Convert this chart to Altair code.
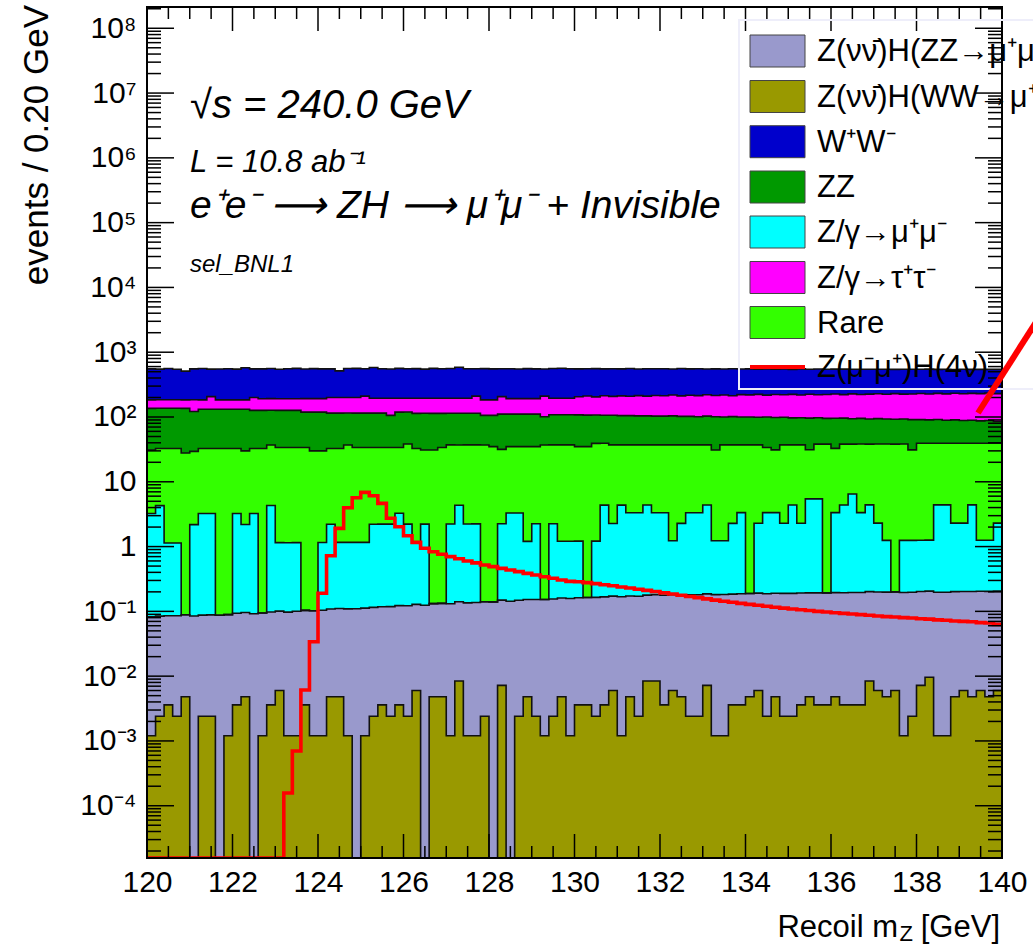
import json
import altair as alt
import numpy as np
import pandas as pd

# ------------------------------------------------------------------ data
# 100 bins of 0.20 GeV from 120 to 140 GeV
bin_edges = np.round(np.linspace(120.0, 140.0, 101), 1)

# Z(vv)H(WW) (olive) - bottom of stack
wwh = [0.0012,0.0024,0.0036,0.0024,0.0048,0,0.0024,0.0024,0,0.0012,
       0.0036,0.0048,0,0.0012,0.0036,0.006,0.0012,0.0012,0.0036,0.0012,
       0.0012,0.0048,0.0048,0.0012,0,0.0012,0.0024,0.0036,0.0024,0.0036,
       0.0024,0.006,0,0.0048,0.0048,0.0012,0.0084,0.0012,0.0012,0.0024,
       0,0.0072,0,0.0024,0.0048,0.0024,0.0012,0.0024,0.0048,0.0012,
       0.0036,0.0036,0.0024,0.0036,0.006,0.0012,0.0048,0.0024,0.0084,0.0084,
       0.0036,0.006,0.0048,0.0024,0.0024,0.0072,0.0012,0.0012,0.0036,0.0036,
       0.0048,0.006,0.0024,0.0048,0.0024,0.0024,0.0036,0.0048,0.0036,0.0036,
       0.0048,0.0036,0.0036,0.0036,0.0084,0.006,0.0048,0.006,0.0012,0.0024,
       0.0072,0.0096,0.0012,0.0012,0.0048,0.006,0.0048,0.006,0.0048,0.006]

# Z(vv)H(ZZ) (lavender)
zzh = [0.081,0.082,0.082,0.083,0.084,0.085,0.085,0.086,0.087,0.088,
       0.090,0.091,0.092,0.093,0.094,0.095,0.096,0.099,0.100,0.101,
       0.103,0.104,0.106,0.108,0.110,0.111,0.113,0.114,0.116,0.119,
       0.120,0.122,0.124,0.127,0.128,0.130,0.132,0.134,0.136,0.138,
       0.140,0.142,0.143,0.146,0.148,0.150,0.151,0.153,0.156,0.157,
       0.159,0.160,0.162,0.164,0.166,0.167,0.168,0.169,0.170,0.172,
       0.174,0.175,0.176,0.177,0.178,0.179,0.180,0.181,0.181,0.183,
       0.184,0.185,0.185,0.186,0.187,0.187,0.188,0.188,0.189,0.189,
       0.190,0.190,0.192,0.192,0.193,0.193,0.193,0.194,0.194,0.195,
       0.195,0.196,0.196,0.196,0.197,0.197,0.198,0.198,0.199,0.199]

# Z/gamma -> mu mu (cyan)
mumu = [3.15,4.2,1.05,1.05,0,2.1,3.15,3.15,0,0,
        3.15,2.1,3.15,0,4.2,1.05,1.05,1.05,0,0,
        1.05,2.1,1.05,1.05,1.05,1.05,2.1,2.1,2.1,3.15,
        2.1,1.05,2.1,0,0,2.1,4.2,2.1,2.1,0,
        0,2.1,3.15,3.15,1.05,2.1,0,2.1,1.05,1.05,
        1.05,0,1.05,4.2,2.1,4.2,3.15,3.15,4.2,3.15,
        3.15,1.05,2.1,3.15,3.15,4.2,1.05,1.05,2.1,3.15,
        0,2.1,3.15,3.15,2.1,4.2,2.1,5.25,5.25,0,
        3.15,4.2,6.3,3.15,4.2,2.1,1.05,0,1.05,1.05,
        1.05,1.05,4.2,4.2,2.1,2.1,4.2,1.05,1.05,2.1]

# Rare (bright green)
rare = [27.7,28.3,31.5,31.5,27.7,27.3,29.4,29.4,32.6,32.6,
        29.4,27.8,29.4,32.6,32.7,32.6,32.6,32.6,33.7,29.9,
        28.8,30.5,31.5,35.9,32.6,32.6,31.6,31.6,31.6,30.5,
        36.0,31.5,28.8,30.8,33.7,34.9,32.7,34.9,34.9,36.8,
        34.7,29.4,31.6,31.6,33.7,32.7,36.8,34.9,35.9,35.9,
        33.7,34.7,38.0,34.9,34.9,32.7,33.8,33.8,32.7,33.8,
        33.8,35.9,34.9,33.8,33.8,32.7,29.8,35.9,34.9,33.8,
        37.0,34.9,30.5,27.7,34.9,32.7,34.9,25.7,32.7,38.0,
        29.4,33.8,31.7,34.9,33.8,36.0,37.0,38.0,37.0,29.8,
        38.0,38.0,34.9,34.9,37.1,37.1,34.9,38.0,38.0,37.1]

# ZZ (dark green)
zz = [105,104,104,104,108,92,99,99,99,99,
      99,102,94,94,90,93,93,93,85,89,
      89,82,82,78,81,81,81,81,72,85,
      81,81,83,83,80,77,77,77,77,69,
      71,79,76,76,76,76,64,71,71,71,
      73,72,68,67,69,68,68,67,67,66,
      66,67,65,65,64,66,70,63,64,63,
      63,62,66,67,62,60,60,65,59,57,
      63,58,56,57,55,56,55,54,55,60,
      52,51,52,50,51,49,50,48,49,46]

# Z/gamma -> tau tau (magenta)
tautau = [48,48,48,48,48,63,52,75,52,52,
          52,52,73,65,65,65,65,65,73,73,
          73,85,85,85,85,95,80,80,89,76,
          76,81,81,81,81,81,81,81,96,78,
          78,96,81,81,81,81,109,87,87,87,
          98,104,97,107,102,107,104,110,106,112,
          110,114,110,114,113,117,114,118,112,121,
          119,124,118,124,121,126,121,128,123,127,
          131,125,133,127,132,134,131,137,132,136,
          139,136,140,138,142,140,142,142,146,144]

# W+W- (blue) - top of stack
ww = [369,364,375,362,326,369,377,342,366,372,
      364,391,353,362,369,355,364,372,358,366,
      362,353,316,360,364,345,385,362,355,368,
      360,364,353,369,362,366,391,360,345,375,
      369,348,364,358,366,362,340,364,369,360,
      348,345,353,340,348,342,351,337,345,340,
      342,334,348,337,340,332,338,334,342,330,
      334,326,336,327,332,321,334,323,330,325,
      321,327,319,325,321,317,323,315,321,318,
      316,321,312,319,310,317,312,315,310,314]

# signal Z(mumu)H(4nu) (red line)
signal = [0,0,0,0,0,0,0,0,0,0,
          0,0,0,0,0,0,1.57e-4,7.0e-4,6.1e-3,0.034,
          0.19,0.72,1.91,3.97,5.67,6.87,6.09,4.65,2.73,2.02,
          1.47,1.16,0.94,0.83,0.76,0.70,0.65,0.60,0.56,0.52,
          0.49,0.46,0.435,0.41,0.386,0.365,0.343,0.324,0.305,0.29,
          0.287,0.278,0.268,0.258,0.248,0.238,0.229,0.22,0.211,0.202,
          0.193,0.185,0.177,0.17,0.163,0.156,0.149,0.143,0.138,0.133,
          0.128,0.124,0.12,0.116,0.112,0.109,0.106,0.103,0.1,0.098,
          0.095,0.093,0.091,0.089,0.087,0.085,0.083,0.082,0.08,0.079,
          0.077,0.076,0.074,0.073,0.071,0.07,0.069,0.067,0.066,0.063]

x_tick_values = [120, 122, 124, 126, 128, 130, 132, 134, 136, 138, 140]
y_tick_values = [1e-4, 1e-3, 1e-2, 1e-1, 1, 10, 1e2, 1e3, 1e4, 1e5, 1e6, 1e7, 1e8]
y_tick_labels = ["10\u207b\u2074", "10\u207b\u00b3", "10\u207b\u00b2", "10\u207b\u00b9", "1", "10",
                 "10\u00b2", "10\u00b3", "10\u2074", "10\u2075", "10\u2076", "10\u2077", "10\u2078"]

NUB = "\u03bd\u03bd\u0304"
legend_labels = [
    "Z(" + NUB + ")H(ZZ\u2192\u03bc\u207a\u03bc\u207b" + NUB + ")",
    "Z(" + NUB + ")H(WW\u2192\u03bc\u207a\u03bd\u03bc\u207b\u03bd\u0304)",
    "W\u207aW\u207b",
    "ZZ",
    "Z/\u03b3\u2192\u03bc\u207a\u03bc\u207b",
    "Z/\u03b3\u2192\u03c4\u207a\u03c4\u207b",
    "Rare",
    "Z(\u03bc\u207b\u03bc\u207a)H(4\u03bd)",
]

# ------------------------------------------------------------------ styles
COL = {"wwh": "#999900", "zzh": "#9999cc", "mumu": "#00ffff", "rare": "#33ff00",
       "zz": "#009900", "tautau": "#ff00ff", "ww": "#0000cc", "sig": "#ff0000"}
legend_keys = ["zzh", "wwh", "ww", "zz", "mumu", "tautau", "rare", "sig"]
FONT = "Liberation Sans"
W, H = 855, 851
YMIN, YMAX = 1.56e-5, 2.13e8
FLOOR = YMIN * 0.01

xs = alt.Scale(domain=[120, 140], nice=False, zero=False)
ys = alt.Scale(type="log", domain=[YMIN, YMAX], nice=False)

stack = [("wwh", wwh), ("zzh", zzh), ("mumu", mumu), ("rare", rare),
         ("zz", zz), ("tautau", tautau), ("ww", ww)]
cum = np.zeros(100)
tops = {}
for key, vals in stack:
    cum = cum + np.asarray(vals, dtype=float)
    tops[key] = cum.copy()


def step_df(vals, floor):
    v = np.asarray(vals, dtype=float)
    v = np.append(v, v[-1])
    v = np.where(v > 0, v, floor)
    return pd.DataFrame({"x": bin_edges, "y": v, "b": FLOOR})


x_axis = alt.Axis(values=x_tick_values, ticks=False, domain=False, grid=False,
                  labelFontSize=30, labelPadding=9, labelFont=FONT, labelColor="black",
                  title=None, labelFlush=False)
label_expr = json.dumps(y_tick_labels) + "[round(log(datum.value)/LN10)+4]"
y_axis = alt.Axis(values=y_tick_values, labelExpr=label_expr, ticks=False, domain=False,
                  grid=False, labelFontSize=30, labelPadding=11, labelFont=FONT,
                  labelColor="black", title=None, labelFlush=False, labelOverlap=False)

X = alt.X("x:Q", scale=xs, axis=x_axis)
Y = alt.Y("y:Q", scale=ys, axis=y_axis, stack=None)

layers = []
for key, _ in reversed(stack):
    df = step_df(tops[key], FLOOR)
    layers.append(
        alt.Chart(df).mark_area(interpolate="step-after", fill=COL[key], opacity=1,
                                clip=True).encode(x=X, y=Y, y2=alt.Y2("b:Q"))
    )

for key, _ in reversed(stack):
    df = step_df(tops[key], FLOOR)
    layers.append(
        alt.Chart(df).mark_line(interpolate="step-after", color="#111111",
                                strokeWidth=1.6, clip=True).encode(x=X, y=Y)
    )

sig_df = step_df(signal, YMIN)
layers.append(
    alt.Chart(sig_df).mark_line(interpolate="step-after", color=COL["sig"],
                                strokeWidth=3.6, clip=True).encode(x=X, y=Y)
)

# ------------------------------------------------------------------ ticks (inside the frame)
x_major = pd.DataFrame({"x": x_tick_values})
x_minor = pd.DataFrame({"x": [120 + 0.5 * i for i in range(41) if i % 4 != 0]})
y_major = pd.DataFrame({"y": y_tick_values})
y_minor_vals = []
for k in range(-5, 9):
    for m in range(2, 10):
        val = m * 10.0 ** k
        if YMIN <= val <= YMAX:
            y_minor_vals.append(val)
y_minor = pd.DataFrame({"y": y_minor_vals})

tick_style = dict(color="black", strokeWidth=1.5)
for df, ln in [(x_major, 24), (x_minor, 12)]:
    layers.append(alt.Chart(df).mark_rule(**tick_style).encode(
        x=X, y=alt.value(H), y2=alt.value(H - ln)))
    layers.append(alt.Chart(df).mark_rule(**tick_style).encode(
        x=X, y=alt.value(0), y2=alt.value(ln)))
for df, ln in [(y_major, 27), (y_minor, 14)]:
    layers.append(alt.Chart(df).mark_rule(**tick_style).encode(
        y=Y, x=alt.value(0), x2=alt.value(ln)))
    layers.append(alt.Chart(df).mark_rule(**tick_style).encode(
        y=Y, x=alt.value(W), x2=alt.value(W - ln)))

one = pd.DataFrame({"a": [0]})
# frame
layers.append(alt.Chart(one).mark_rect(fillOpacity=0, stroke="black", strokeWidth=2).encode(
    x=alt.value(0), x2=alt.value(W), y=alt.value(0), y2=alt.value(H)))

# ------------------------------------------------------------------ legend
layers.append(alt.Chart(one).mark_rect(fillOpacity=0, stroke="#eeeefa", strokeWidth=2).encode(
    x=alt.value(592), x2=alt.value(920), y=alt.value(13), y2=alt.value(382)))
row_centers = [44, 89.5, 134.7, 180, 225, 270.5, 315.5, 360]
for key, lab, c in zip(legend_keys, legend_labels, row_centers):
    if key == "sig":
        layers.append(alt.Chart(one).mark_rule(color=COL["sig"], strokeWidth=4).encode(
            x=alt.value(603), x2=alt.value(658), y=alt.value(c)))
    else:
        layers.append(alt.Chart(one).mark_rect(fill=COL[key], stroke="#444444", strokeWidth=1).encode(
            x=alt.value(603), x2=alt.value(658), y=alt.value(c - 16), y2=alt.value(c + 16)))
    layers.append(alt.Chart(one).mark_text(text=lab, font=FONT, fontSize=31, align="left",
                                          baseline="middle", color="black").encode(
        x=alt.value(670), y=alt.value(c + 1)))


def txt(s, x, y, size, style="normal", align="left", baseline="alphabetic", angle=0):
    kw = dict(text=s, font=FONT, fontSize=size, fontStyle=style, align=align,
              baseline=baseline, color="black")
    if angle:
        kw["angle"] = angle
    return alt.Chart(one).mark_text(**kw).encode(x=alt.value(x), y=alt.value(y))


layers.append(txt("\u221as = 240.0 GeV", 43, 111, 40, "italic"))
layers.append(txt("L = 10.8 ab\u207b\u00b9", 43, 165, 31, "italic"))
layers.append(txt("e\u207ae\u207b \u27f6 ZH \u27f6 \u03bc\u207a\u03bc\u207b + Invisible", 43, 211, 39, "italic"))
layers.append(txt("sel_BNL1", 43, 265, 24, "italic"))

# axis titles
layers.append(txt("events / 0.20 GeV", -110, -2, 35, align="right", baseline="middle", angle=270))
layers.append(txt("[GeV]", 853, 930, 31, align="right"))
layers.append(txt("Z", 766, 934, 22, align="right"))
layers.append(txt("Recoil m", 751, 930, 31, align="right"))

# red stray line at the right edge
layers.append(alt.Chart(one).mark_rule(color="#ff0000", strokeWidth=6).encode(
    x=alt.value(831), y=alt.value(406), x2=alt.value(898), y2=alt.value(301)))

chart = alt.layer(*layers).properties(
    width=W, height=H,
    autosize=alt.AutoSizeParams(type="none"),
    padding={"left": 147, "top": 7, "right": 31, "bottom": 89},
    background="white",
).configure_view(strokeWidth=0)

chart.save("out.html", embed_options={"renderer": "svg", "actions": False})
